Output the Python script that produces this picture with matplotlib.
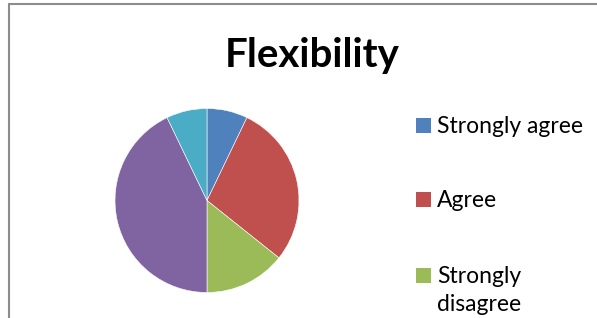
import matplotlib.pyplot as plt
from matplotlib.patches import Rectangle

title = "Flexibility"
labels = ["Strongly agree", "Agree", "Strongly disagree", "Disagree", "Neutral"]
legend_text = ["Strongly agree", "Agree", "Strongly\ndisagree"]  # only these fit in the frame
values = [1, 4, 2, 6, 1]
colors = ["#4F81BD", "#C0504D", "#9BBB59", "#8064A2", "#4BACC6"]

W, H = 597, 318
fig = plt.figure(figsize=(W / 100, H / 100), dpi=100)
plt.rcParams["font.family"] = ["Lato", "DejaVu Sans"]

# chart frame (cut off at right and bottom)
fig.patches.append(Rectangle((9 / W, -0.1), 1.2, (H - 4) / H + 0.1,
                             transform=fig.transFigure, fill=False,
                             edgecolor="#8c8c8c", linewidth=1.5))

# pie
cx, cy, r = 207, H - 200.5, 92
ax = fig.add_axes([(cx - r) / W, (cy - r) / H, 2 * r / W, 2 * r / H])
ax.pie(values, colors=colors, startangle=90, counterclock=False,
       wedgeprops=dict(edgecolor="white", linewidth=0.4))
ax.set_xlim(-1, 1)
ax.set_ylim(-1, 1)
ax.set_aspect("auto")
ax.axis("off")

fig.text(312 / W, (H - 67) / H, title, ha="center", va="baseline",
         fontsize=29, fontweight="bold")

# legend drawn by hand, one entry every ~76 px
base = [133, 207, 283]
for i, txt in enumerate(legend_text):
    b = base[i]
    fig.patches.append(Rectangle((416 / W, (H - b) / H), 15 / W, 15 / H,
                                 transform=fig.transFigure, facecolor=colors[i],
                                 edgecolor="none"))
    for j, line in enumerate(txt.split("\n")):
        fig.text(437 / W, (H - b - j * 28) / H, line, ha="left",
                 va="baseline", fontsize=16.5)

fig.savefig("out.png", dpi=100)
